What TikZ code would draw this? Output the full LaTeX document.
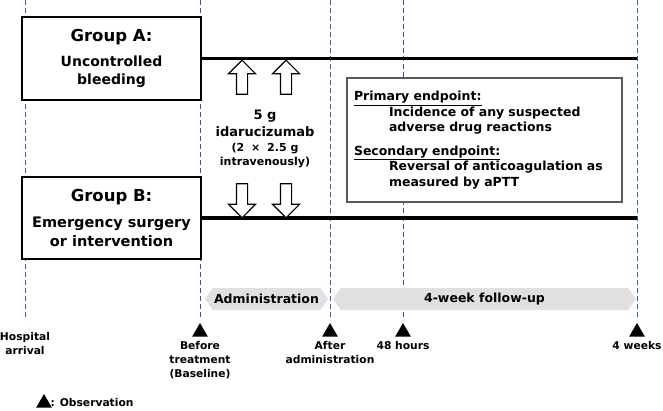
\documentclass[tikz,border=0pt]{standalone}
\usepackage{fontspec}
\setmainfont{DejaVu Sans}
\usepackage{xcolor}
\usetikzlibrary{shapes.geometric, shapes.arrows, shapes.symbols, positioning}

\definecolor{guide}{HTML}{2E5A99}
\definecolor{band}{HTML}{E0E0E0}
\definecolor{frame}{HTML}{5A5A5A}

\newcommand{\headfont}{\fontsize{16.5}{18}\selectfont}
\newcommand{\smallfont}{\fontsize{11}{15}\selectfont}

\begin{document}
\begin{tikzpicture}[
    x=1pt, y=-1pt,
    font=\bfseries,
    guideline/.style={guide, line width=0.8pt, dash pattern=on 5pt off 3pt},
    group/.style={draw, rectangle, line width=1.3pt, fill=white, minimum width=179pt, minimum height=83pt, align=center, inner sep=0pt, font=\bfseries\fontsize{14}{18}\selectfont},
    armline/.style={line width=3.5pt},
    dose/.style={draw, single arrow, fill=white, line width=1.1pt, minimum height=34pt, minimum width=26pt, single arrow head extend=8pt, single arrow head indent=0pt, inner sep=5pt},
    endpoint/.style={draw=frame, line width=1.6pt, fill=white, rectangle, text width=261pt, inner xsep=7pt, minimum height=124pt, align=left, font=\bfseries\fontsize{12.5}{15.5}\selectfont},
    phase/.style={signal, signal to=west and east, signal pointer angle=110, fill=band, minimum height=22pt, inner sep=0pt, font=\bfseries\fontsize{12.5}{15}\selectfont},
    obs/.style={regular polygon, regular polygon sides=3, fill=black, inner sep=0pt, minimum size=18pt},
    timelabel/.style={align=center, inner sep=0pt, font=\bfseries\fontsize{10.7}{14}\selectfont}
]
    \useasboundingbox (0,0) rectangle (663,411);

    % ================= TIME POINTS =================
    \coordinate (topH) at (25,0);   \coordinate (botH) at (25,320);
    \coordinate (topB) at (200,0);  \coordinate (botB) at (200,320);
    \coordinate (topA) at (330,0);  \coordinate (botA) at (330,320);
    \coordinate (top48) at (403,0); \coordinate (bot48) at (403,320);
    \coordinate (top4w) at (637,0); \coordinate (bot4w) at (637,320);

    \draw[guideline] (topH) -- (botH);
    \draw[guideline] (topB) -- (botB);
    \draw[guideline] (topA) -- (botA);
    \draw[guideline] (top48) -- (bot48);
    \draw[guideline] (top4w) -- (bot4w);

    % ================= GROUPS =================
    \node[group] (grpA) at (111.5,58.5) {\headfont Group A:\\[7pt]Uncontrolled\\bleeding};
    \node[group, minimum height=82pt, font=\bfseries\fontsize{14.5}{19}\selectfont] (grpB) at (111.5,218) {\headfont Group B:\\[7pt]Emergency surgery\\or intervention};

    \draw[armline] (grpA.east) -- (grpA.east -| top4w);
    \draw[armline] (grpB.east) -- (grpB.east -| top4w);

    % ================= IDARUCIZUMAB =================
    \node[dose, shape border rotate=90] (upL) at (242,80) {};
    \node[dose, shape border rotate=90] (upR) at (286,80) {};
    \node[dose, shape border rotate=270] (dnL) at (242,198) {};
    \node[dose, shape border rotate=270] (dnR) at (286,198) {};

    \node[align=center, inner sep=0pt, font=\bfseries\fontsize{13}{15}\selectfont] (drug) at (265,139) {5 g\\[2pt]idarucizumab\\\smallfont (2\hspace{3pt} × \hspace{3pt}2.5 g\\[-1pt]\smallfont intravenously)};

    % ================= ENDPOINTS =================
    \node[endpoint] (ends) at (484.5,140) {\underline{Primary endpoint:}\\
        \hspace*{35pt}Incidence of any suspected\\
        \hspace*{35pt}adverse drug reactions\\[8pt]
        \underline{Secondary endpoint:}\\
        \hspace*{35pt}Reversal of anticoagulation as\\
        \hspace*{35pt}measured by aPTT};

    % ================= PHASES =================
    \node[phase, minimum width=123pt] (adm) at (266.5,299) {Administration};
    \node[phase, minimum width=303pt] (fup) at (484.5,299) {4-week follow-up};

    % ================= OBSERVATIONS =================
    \node[obs] (obsB) at (200,332) {};
    \node[obs] (obsA) at (330,332) {};
    \node[obs] (obs48) at (403,332) {};
    \node[obs] (obs4w) at (637,332) {};

    \node[timelabel] (lblH) at (25,344) {Hospital\\arrival};
    \node[timelabel, below=4pt of obsB] (lblB) {Before\\treatment\\(Baseline)};
    \node[timelabel, below=4pt of obsA] (lblA) {After\\administration};
    \node[timelabel, below=4pt of obs48] (lbl48) {48 hours};
    \node[timelabel, below=4pt of obs4w] (lbl4w) {4 weeks};

    % legend
    \node[obs] (legtri) at (44,403) {};
    \node[timelabel, right=1pt of legtri] (legtxt) {: Observation};
\end{tikzpicture}
\end{document}
